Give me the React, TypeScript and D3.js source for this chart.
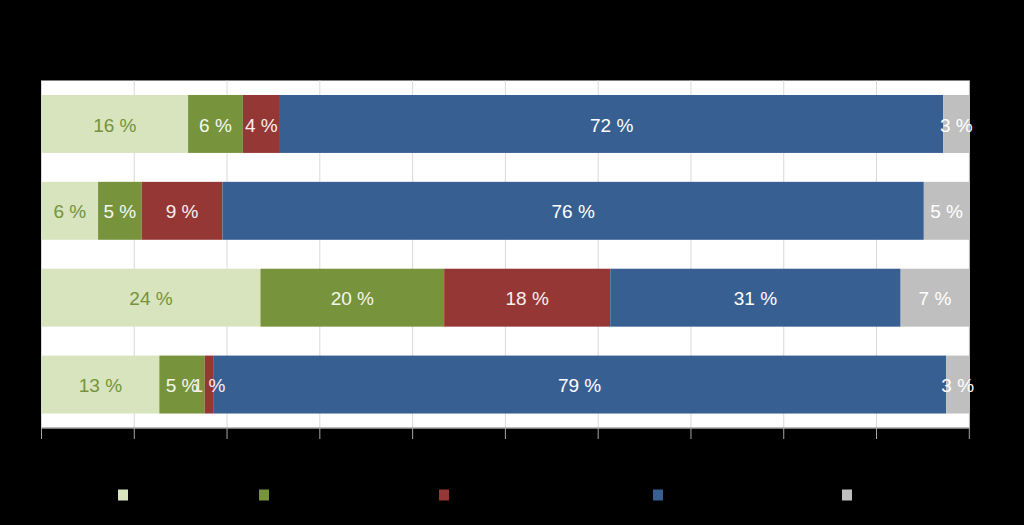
import React from "react";
import * as d3 from "d3";

// Rows (top to bottom); category names are not visible in the reference
const categories = ["Row 1", "Row 2", "Row 3", "Row 4"];
const seriesNames = ["S1", "S2", "S3", "S4", "S5"];
const seriesColors = ["#d7e4bd", "#77933c", "#953735", "#375f91", "#bfbfbf"];
const labelColors = ["#76923c", "#f4f8ec", "#fbeeee", "#ffffff", "#ffffff"];

// Shares in percent, per series (one value per row)
const s1 = [15.8, 6.1, 23.6, 12.7];
const s2 = [5.9, 4.7, 19.8, 4.9];
const s3 = [4.0, 8.7, 17.9, 0.9];
const s4 = [71.5, 75.6, 31.3, 79.0];
const s5 = [2.8, 4.9, 7.4, 2.5];
const seriesValues = [s1, s2, s3, s4, s5];

const xTicks = [0, 10, 20, 30, 40, 50, 60, 70, 80, 90, 100];

const W = 1024;
const H = 525;
const plot = { left: 41.5, right: 969.3, top: 80.5, bottom: 428 };
const legendX = [118, 259, 439, 653, 842];

export default function App() {
  React.useEffect(() => {
    document.body.style.margin = "0";
    document.body.style.background = "#000";
  }, []);

  const rows = categories.map((c, i) => {
    const o: any = { cat: c };
    seriesNames.forEach((s, j) => (o[s] = seriesValues[j][i]));
    return o;
  });
  const stack = d3.stack<any>().keys(seriesNames)(rows);

  const x = d3.scaleLinear().domain([0, 100]).range([plot.left, plot.right]);
  const y = d3
    .scaleBand<string>()
    .domain(categories)
    .range([plot.top, plot.bottom])
    .paddingInner(0.333)
    .paddingOuter(0.1667);

  const font = "'Liberation Sans', Arial, sans-serif";

  return (
    <svg width={W} height={H} style={{ display: "block" }} xmlns="http://www.w3.org/2000/svg">
      <rect x={0} y={0} width={W} height={H} fill="#000" />
      <rect
        x={plot.left}
        y={plot.top}
        width={plot.right - plot.left}
        height={plot.bottom - plot.top}
        fill="#fff"
      />
      {xTicks.map((t) => (
        <line
          key={"g" + t}
          x1={x(t)}
          x2={x(t)}
          y1={plot.top}
          y2={plot.bottom}
          stroke="#d9d9d9"
          strokeWidth={1}
        />
      ))}
      {stack.map((layer, si) =>
        layer.map((d, ri) => {
          const x0 = x(d[0]);
          const x1 = x(d[1]);
          const yy = y(categories[ri])!;
          return (
            <rect
              key={`b${si}-${ri}`}
              x={x0}
              y={yy}
              width={x1 - x0}
              height={y.bandwidth()}
              fill={seriesColors[si]}
            />
          );
        })
      )}
      {stack.map((layer, si) =>
        layer.map((d, ri) => {
          const cx = (x(d[0]) + x(d[1])) / 2;
          const cy = y(categories[ri])! + y.bandwidth() / 2;
          const v = seriesValues[si][ri];
          return (
            <text
              key={`t${si}-${ri}`}
              x={cx}
              y={cy + 1}
              dy="0.35em"
              textAnchor="middle"
              fontFamily={font}
              fontSize={19}
              fill={labelColors[si]}
            >
              {`${Math.round(v)} %`}
            </text>
          );
        })
      )}
      <line
        x1={plot.left}
        x2={plot.right}
        y1={plot.bottom}
        y2={plot.bottom}
        stroke="#a6a6a6"
        strokeWidth={1.5}
      />
      {xTicks.map((t) => (
        <line
          key={"t" + t}
          x1={x(t)}
          x2={x(t)}
          y1={plot.bottom}
          y2={plot.bottom + 11}
          stroke="#a6a6a6"
          strokeWidth={1}
        />
      ))}
      {seriesNames.map((s, i) => (
        <rect
          key={"l" + s}
          x={legendX[i]}
          y={489.5}
          width={10}
          height={11}
          fill={seriesColors[i]}
        />
      ))}
    </svg>
  );
}
